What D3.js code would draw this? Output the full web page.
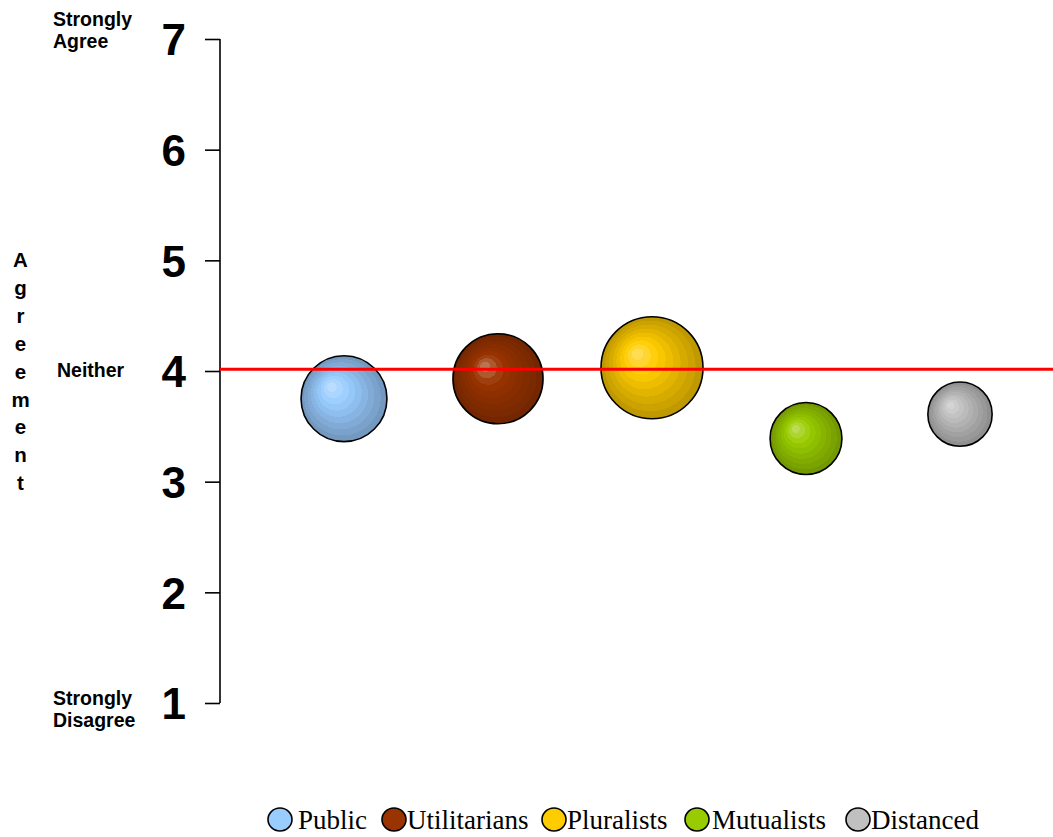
<!DOCTYPE html>
<html>
<head>
<meta charset="utf-8">
<script src="https://cdn.jsdelivr.net/npm/d3@7/dist/d3.min.js"></script>
<style>
  html, body { margin: 0; padding: 0; background: #fff; }
  svg { display: block; }
</style>
</head>
<body>
<svg id="chart" width="1053" height="837"></svg>
<script>
// Segments and their mean agreement score (1 = strongly disagree, 7 = strongly agree)
const segments = ["Public", "Utilitarians", "Pluralists", "Mutualists", "Distanced"];
const agreement = [3.75, 3.93, 4.03, 3.39, 3.61];
// Relative segment size, shown as bubble area
const segmentSize = [100, 110, 141, 70, 56];
// Base fill colour of each segment
const baseColors = ["#99ccff", "#993300", "#ffcc00", "#99cc00", "#c0c0c0"];
// Scale ticks and the neutral reference level
const scaleTicks = [1, 2, 3, 4, 5, 6, 7];
const neutralLevel = 4.015;
const axisTitle = "Agreement";

const svg = d3.select("#chart");
const W = 1053;

const y = d3.scaleLinear().domain([1, 7]).range([703, 39]);
const x = d3.scalePoint().domain(segments).range([344, 960]);
const r = d3.scaleSqrt().domain([0, d3.max(segmentSize)]).range([0, 51]);
const axisX = 220;

// Banded radial gradients giving each bubble a shaded, sphere-like look
const defs = svg.append("defs");
segments.forEach((s, i) => {
  const base = d3.rgb(baseColors[i]);
  const light = d3.interpolateRgb(base, "#ffffff")(0.32);
  const dark = base.darker(0.8);
  const colorAt = t => t < 0.3
    ? d3.interpolateRgb(light, base)(t / 0.3)
    : d3.interpolateRgb(base, dark)((t - 0.3) / 0.7);
  const g = defs.append("radialGradient")
    .attr("id", "grad" + i)
    .attr("cx", "0.5").attr("cy", "0.5").attr("r", "0.5")
    .attr("fx", "0.34").attr("fy", "0.35");
  const bands = 9;
  for (let b = 0; b < bands; b++) {
    const c = colorAt(b / (bands - 1));
    g.append("stop").attr("offset", b / bands).attr("stop-color", c);
    g.append("stop").attr("offset", (b + 1) / bands).attr("stop-color", c);
  }
});

// Y axis with large tick labels
const axis = d3.axisLeft(y)
  .tickValues(scaleTicks)
  .tickFormat(d3.format("d"))
  .tickSize(15)
  .tickSizeOuter(0)
  .tickPadding(19);

const gAxis = svg.append("g")
  .attr("transform", `translate(${axisX},0)`)
  .call(axis);
gAxis.select(".domain").remove();
gAxis.selectAll(".tick line")
  .attr("stroke", "#000")
  .attr("stroke-width", 1.6);
gAxis.selectAll(".tick text")
  .attr("fill", "#000")
  .attr("dy", "0.36em")
  .style("font-family", "'Liberation Sans', Arial, sans-serif")
  .style("font-weight", "bold")
  .style("font-size", "44px");

svg.append("line")
  .attr("x1", axisX).attr("x2", axisX)
  .attr("y1", y(7)).attr("y2", y(1))
  .attr("stroke", "#000")
  .attr("stroke-width", 1.6);

// Bubbles
svg.append("g").selectAll("circle")
  .data(segments)
  .join("circle")
  .attr("cx", d => x(d))
  .attr("cy", (d, i) => y(agreement[i]))
  .attr("r", (d, i) => r(segmentSize[i]))
  .attr("fill", (d, i) => `url(#grad${i})`)
  .attr("stroke", "#000")
  .attr("stroke-width", 1.6);

// Neutral reference line
svg.append("line")
  .attr("x1", axisX).attr("x2", W)
  .attr("y1", y(neutralLevel)).attr("y2", y(neutralLevel))
  .attr("stroke", "#ff0000")
  .attr("stroke-width", 3);

// Scale anchor labels
const labelFont = "'Liberation Sans', Arial, sans-serif";
const anchors = [
  { lines: ["Strongly", "Agree"], lx: 53, y0: 26 },
  { lines: ["Neither"], lx: 57, y0: 377 },
  { lines: ["Strongly", "Disagree"], lx: 53, y0: 705 }
];
anchors.forEach(a => {
  const t = svg.append("text")
    .attr("x", a.lx)
    .attr("y", a.y0)
    .style("font-family", labelFont)
    .style("font-weight", "bold")
    .style("font-size", "19.5px");
  a.lines.forEach((ln, k) => {
    t.append("tspan")
      .attr("x", a.lx)
      .attr("dy", k === 0 ? 0 : 22)
      .text(ln);
  });
});

// Vertical axis title, one letter per line
svg.append("g").selectAll("text")
  .data(axisTitle.split(""))
  .join("text")
  .attr("x", 20.5)
  .attr("y", (d, i) => 267 + i * 27.9)
  .attr("text-anchor", "middle")
  .style("font-family", labelFont)
  .style("font-weight", "bold")
  .style("font-size", "20.5px")
  .text(d => d);

// Legend
const legendPos = [
  { cx: 280, tx: 298 },
  { cx: 394, tx: 407 },
  { cx: 554, tx: 567 },
  { cx: 697, tx: 712 },
  { cx: 858, tx: 871 }
];
const legend = svg.append("g");
segments.forEach((s, i) => {
  legend.append("ellipse")
    .attr("cx", legendPos[i].cx).attr("cy", 819.5)
    .attr("rx", 12).attr("ry", 11.5)
    .attr("fill", baseColors[i])
    .attr("stroke", "#000")
    .attr("stroke-width", 1.6);
  legend.append("text")
    .attr("x", legendPos[i].tx).attr("y", 829)
    .style("font-family", "'Liberation Serif', 'Times New Roman', serif")
    .style("font-size", "27px")
    .attr("fill", "#000")
    .text(s);
});
</script>
</body>
</html>
